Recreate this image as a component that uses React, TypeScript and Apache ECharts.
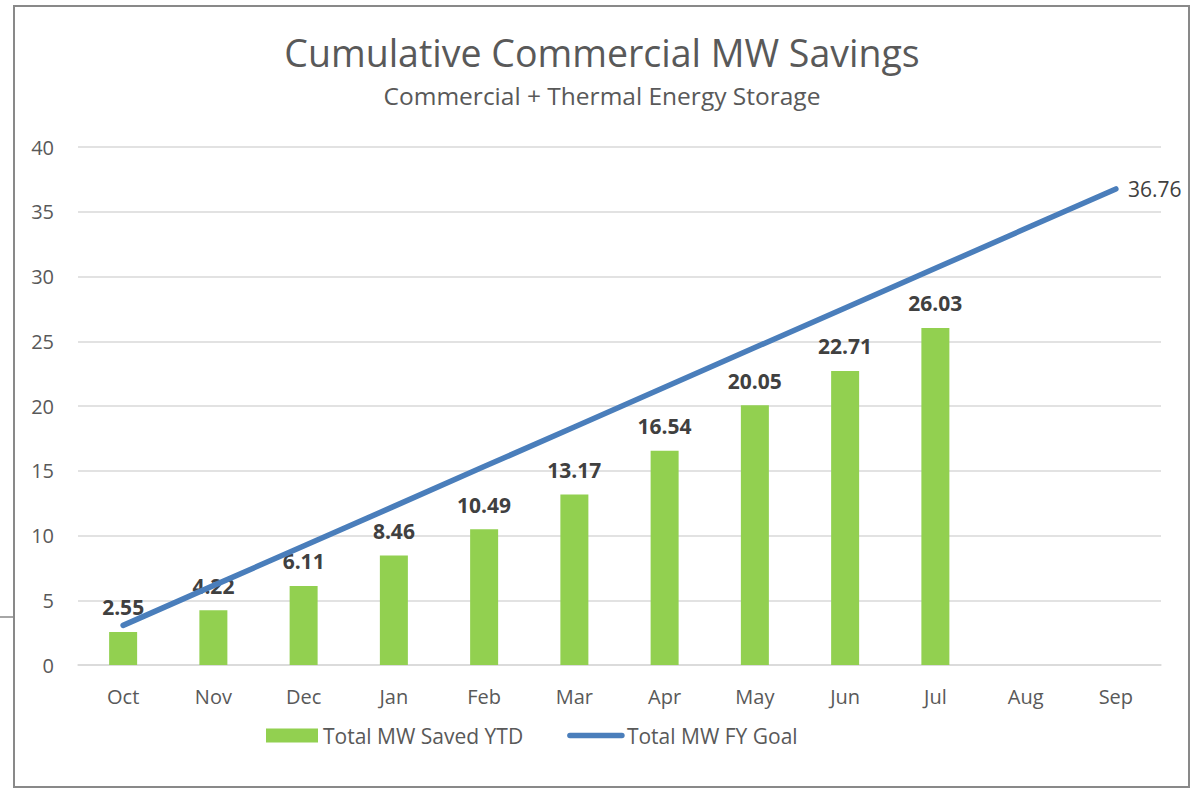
import React, { useEffect, useRef } from "react";
import * as echarts from "echarts";

const months = ["Oct", "Nov", "Dec", "Jan", "Feb", "Mar", "Apr", "May", "Jun", "Jul", "Aug", "Sep"];
const savedYTD: (number | null)[] = [2.55, 4.22, 6.11, 8.46, 10.49, 13.17, 16.54, 20.05, 22.71, 26.03, null, null];
const fyGoal: number[] = [3.06, 6.13, 9.19, 12.25, 15.32, 18.38, 21.44, 24.51, 27.57, 30.63, 33.7, 36.76];
const yTicks = { min: 0, max: 40, interval: 5 };

const titleText = "Cumulative Commercial MW Savings";
const subtitleText = "Commercial + Thermal Energy Storage";
const barName = "Total MW Saved YTD";
const lineName = "Total MW FY Goal";

const FONT = "'Open Sans', sans-serif";

export default function App() {
  const ref = useRef<HTMLDivElement>(null);
  useEffect(() => {
    if (!ref.current) return;
    const chart = echarts.init(ref.current, undefined, { renderer: "svg" });
    chart.setOption({
      animation: false,
      backgroundColor: "#ffffff",
      textStyle: { fontFamily: FONT },
      title: [
        {
          text: titleText,
          left: "center",
          top: 33,
          padding: 0,
          textStyle: { fontFamily: FONT, fontSize: 37.5, fontWeight: "normal", color: "#595959" },
        },
        {
          text: subtitleText,
          left: "center",
          top: 83,
          padding: 0,
          textStyle: { fontFamily: FONT, fontSize: 24.5, fontWeight: "normal", color: "#595959" },
        },
      ],
      graphic: [
        {
          type: "rect",
          shape: { x: 14, y: 6, width: 1175, height: 781 },
          style: { fill: "none", stroke: "#898989", lineWidth: 2 },
          silent: true,
        },
        {
          type: "line",
          shape: { x1: 0, y1: 617, x2: 14, y2: 617 },
          style: { stroke: "#898989", lineWidth: 1.5 },
          silent: true,
        },
      ],
      legend: {
        left: 266,
        top: 725,
        padding: 0,
        itemWidth: 52,
        itemHeight: 14,
        itemGap: 44,
        textStyle: { fontFamily: FONT, fontSize: 21, color: "#595959" },
        data: [
          { name: barName, icon: "rect" },
          { name: lineName, itemStyle: { opacity: 0 }, lineStyle: { width: 5.5, cap: "round" } },
        ],
      },
      grid: { left: 78, right: 43, top: 147, bottom: 123, containLabel: false },
      xAxis: {
        type: "category",
        data: months,
        axisLine: { lineStyle: { color: "#D9D9D9", width: 1.5 } },
        axisTick: { show: false },
        axisLabel: { fontFamily: FONT, fontSize: 20, color: "#595959", margin: 21 },
      },
      yAxis: {
        type: "value",
        min: yTicks.min,
        max: yTicks.max,
        interval: yTicks.interval,
        axisLine: { show: false },
        axisTick: { show: false },
        axisLabel: { fontFamily: FONT, fontSize: 20, color: "#595959", margin: 24 },
        splitLine: { lineStyle: { color: "#D9D9D9", width: 1.5 } },
      },
      series: [
        {
          name: barName,
          type: "bar",
          data: savedYTD,
          barWidth: 28,
          itemStyle: { color: "#92D050" },
          label: {
            show: true,
            position: "top",
            distance: 14,
            fontFamily: FONT,
            fontSize: 21,
            fontWeight: "bold",
            color: "#404040",
          },
          z: 2,
        },
        {
          name: lineName,
          type: "line",
          data: fyGoal,
          symbol: "none",
          showSymbol: false,
          lineStyle: { color: "#4A7EBB", width: 5.5, cap: "round" },
          itemStyle: { color: "#4A7EBB" },
          endLabel: {
            show: true,
            distance: 12,
            fontFamily: FONT,
            fontSize: 21,
            color: "#404040",
            formatter: "{c}",
          },
          z: 3,
        },
      ],
    });
    return () => chart.dispose();
  }, []);
  return <div ref={ref} style={{ position: "fixed", left: 0, top: 0, width: 1204, height: 788 }} />;
}
